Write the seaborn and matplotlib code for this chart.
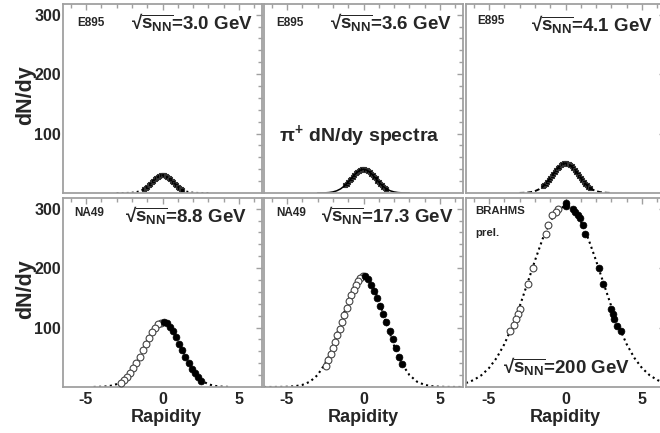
import matplotlib
matplotlib.use("Agg")
import matplotlib.pyplot as plt
import seaborn as sns

# ---------------- data ----------------
energy_labels = ["3.0", "3.6", "4.1", "8.8", "17.3", "200"]
experiments = ["E895", "E895", "E895", "NA49", "NA49", "BRAHMS"]

# E895 (top row) data points
e30_x = [-1.2, -1.1, -1.0, -0.9, -0.8, -0.7, -0.6, -0.5, -0.4, -0.3, -0.2, -0.1, 0.0,
         0.1, 0.2, 0.3, 0.4, 0.5, 0.6, 0.7, 0.8, 0.9, 1.0, 1.1, 1.2, 1.3]
e30_y = [6.8, 8.9, 10.6, 13.2, 15.4, 18.3, 20.6, 23.4, 25.3, 27.5, 28.7, 29.8, 30.1,
         29.6, 28.9, 27.2, 25.6, 23.0, 20.9, 18.0, 15.7, 12.9, 10.9, 8.6, 7.0, 5.2]

e36_x = [-1.2, -1.1, -1.0, -0.9, -0.8, -0.7, -0.6, -0.5, -0.4, -0.3, -0.2, -0.1, 0.0,
         0.1, 0.2, 0.3, 0.4, 0.5, 0.6, 0.7, 0.8, 0.9, 1.0, 1.1, 1.2, 1.3, 1.4, 1.5]
e36_y = [12.8, 15.7, 18.1, 21.4, 24.1, 27.5, 30.0, 33.1, 35.1, 37.5, 38.6, 39.9, 40.2,
         39.5, 39.0, 37.1, 35.5, 32.7, 30.4, 27.1, 24.5, 21.0, 18.5, 15.3, 13.2, 10.5, 8.8, 6.8]

e41_x = [-1.5, -1.4, -1.3, -1.2, -1.1, -1.0, -0.9, -0.8, -0.7, -0.6, -0.5, -0.4, -0.3, -0.2, -0.1, 0.0,
         0.1, 0.2, 0.3, 0.4, 0.5, 0.6, 0.7, 0.8, 0.9, 1.0, 1.1, 1.2, 1.3, 1.4, 1.5, 1.6]
e41_y = [11.6, 13.1, 15.8, 18.2, 21.9, 24.7, 28.8, 31.8, 35.9, 38.6, 42.4, 44.5, 47.3, 48.4, 50.1, 49.8,
         49.5, 48.8, 46.7, 45.0, 41.8, 39.1, 35.3, 32.3, 28.2, 25.2, 21.3, 18.6, 15.2, 13.1, 10.3, 8.4]

# fit curves, top row
fit_top_x = [-3.0, -2.75, -2.5, -2.25, -2.0, -1.75, -1.5, -1.25, -1.0, -0.75, -0.5, -0.25, 0.0,
             0.25, 0.5, 0.75, 1.0, 1.25, 1.5, 1.75, 2.0, 2.25, 2.5, 2.75, 3.0]
fit30_y = [0.0, 0.01, 0.05, 0.17, 0.5, 1.3, 3.0, 6.1, 10.8, 16.9, 23.2, 28.1, 30.0,
           28.1, 23.2, 16.9, 10.8, 6.1, 3.0, 1.3, 0.5, 0.17, 0.05, 0.01, 0.0]
fit36_y = [0.03, 0.1, 0.3, 0.77, 1.8, 3.7, 6.9, 11.8, 18.3, 25.8, 32.9, 38.1, 40.0,
           38.1, 32.9, 25.8, 18.3, 11.8, 6.9, 3.7, 1.8, 0.77, 0.3, 0.1, 0.03]
fit41_y = [0.1, 0.27, 0.66, 1.5, 3.1, 6.0, 10.5, 17.0, 25.0, 33.9, 42.1, 47.9, 50.0,
           47.9, 42.1, 33.9, 25.0, 17.0, 10.5, 6.0, 3.1, 1.5, 0.66, 0.27, 0.1]

# NA49 8.8 GeV
na88_fill_x = [0.1, 0.3, 0.5, 0.7, 0.9, 1.1, 1.3, 1.5, 1.7, 1.9, 2.1, 2.3, 2.5]
na88_fill_y = [110, 107, 101, 94, 84, 73, 62, 51, 41, 31, 23, 16, 10]
na88_open_x = [-0.1, -0.3, -0.5, -0.7, -0.9, -1.1, -1.3, -1.5, -1.7, -1.9, -2.1, -2.3, -2.5, -2.7]
na88_open_y = [108, 106, 100, 92, 83, 73, 62, 51, 41, 32, 24, 17, 12, 7]
fit88_x = [-4.5, -4.25, -4.0, -3.75, -3.5, -3.25, -3.0, -2.75, -2.5, -2.25, -2.0, -1.75, -1.5,
           -1.25, -1.0, -0.75, -0.5, -0.25, 0.0, 0.25, 0.5, 0.75, 1.0, 1.25, 1.5, 1.75,
           2.0, 2.25, 2.5, 2.75, 3.0, 3.25, 3.5, 3.75, 4.0, 4.25, 4.5]
fit88_y = [0.1, 0.21, 0.43, 0.83, 1.56, 2.8, 4.8, 8.0, 12.6, 19.0, 27.4, 38.0, 50.4,
           63.9, 77.8, 90.5, 100.9, 107.6, 110, 107.6, 100.9, 90.5, 77.8, 63.9, 50.4, 38.0,
           27.4, 19.0, 12.6, 8.0, 4.8, 2.8, 1.56, 0.83, 0.43, 0.21, 0.1]

# NA49 17.3 GeV
na173_fill_x = [0.1, 0.3, 0.5, 0.7, 0.9, 1.1, 1.3, 1.5, 1.7, 1.9, 2.1, 2.3, 2.5]
na173_fill_y = [187, 181, 172, 162, 150, 137, 123, 109, 95, 80, 66, 51, 38]
na173_open_x = [-0.05, -0.2, -0.35, -0.5, -0.65, -0.8, -0.95, -1.1, -1.25, -1.4, -1.55,
                -1.7, -1.85, -2.0, -2.15, -2.3, -2.45]
na173_open_y = [186, 183, 178, 171, 163, 154, 144, 133, 121, 109, 98, 87, 76, 66, 56, 46, 36]

# BRAHMS 200 GeV
br_fill_x = [0.0, 0.05, 0.5, 0.65, 0.8, 0.95, 1.13, 1.3, 2.17, 2.48, 3.0, 3.1, 3.2, 3.35, 3.6]
br_fill_y = [310, 304, 300, 294, 289, 285, 272, 258, 201, 173, 131, 122, 114, 102, 94]
br_open_x = [-0.5, -0.65, -0.85, -1.15, -1.3, -2.15, -2.45, -3.0, -3.1, -3.25, -3.35, -3.6]
br_open_y = [300, 294, 289, 272, 258, 201, 173, 131, 123, 115, 105, 95]

fit_wide_x = [-6.5, -6.0, -5.5, -5.0, -4.5, -4.0, -3.5, -3.0, -2.5, -2.0, -1.5, -1.0, -0.5, 0.0,
              0.5, 1.0, 1.5, 2.0, 2.5, 3.0, 3.5, 4.0, 4.5, 5.0, 5.5, 6.0, 6.5]
fit173_y = [0.01, 0.03, 0.1, 0.38, 1.23, 3.5, 8.9, 20.1, 39.5, 69.4, 107.0, 145.9, 175.8, 187,
            175.8, 145.9, 107.0, 69.4, 39.5, 20.1, 8.9, 3.5, 1.23, 0.38, 0.1, 0.03, 0.01]
fit200_y = [6.7, 11.7, 19.7, 31.8, 48.9, 71.8, 100.8, 135.2, 173.5, 212.4, 248.8, 278.6, 298.2, 305,
            298.2, 278.6, 248.8, 212.4, 173.5, 135.2, 100.8, 71.8, 48.9, 31.8, 19.7, 11.7, 6.7]

y_ticks = [100, 200, 300]
x_ticks = [-5, 0, 5]

# ---------------- style ----------------
sns.set_style("white")
plt.rcParams["font.family"] = ["Liberation Sans", "DejaVu Sans"]
plt.rcParams["font.weight"] = "bold"
plt.rcParams["axes.unicode_minus"] = False
plt.rcParams["mathtext.fontset"] = "custom"
plt.rcParams["mathtext.rm"] = "Liberation Sans:bold"
plt.rcParams["mathtext.it"] = "Liberation Sans:bold"
plt.rcParams["mathtext.bf"] = "Liberation Sans:bold"
plt.rcParams["mathtext.sf"] = "Liberation Sans:bold"

GRAY = "#a0a0a0"
W, H = 660.0, 433.0
fig = plt.figure(figsize=(6.6, 4.33), dpi=100)

col_left = [63, 264, 466]
row_top = [4, 198]
pw, ph = 199, 189

axes = []
for r in range(2):
    for c in range(3):
        l, t = col_left[c], row_top[r]
        ax = fig.add_axes([l / W, 1 - (t + ph) / H, pw / W, ph / H])
        axes.append(ax)

dotted = (0, (1.0, 1.6))


def style_axes(ax, r, c):
    ax.set_xlim(-6.5, 6.5)
    ax.set_ylim(0, 318)
    ax.set_xticks(x_ticks)
    ax.set_yticks(y_ticks)
    ax.set_xticks(range(-6, 7), minor=True)
    ax.set_yticks(range(20, 318, 20), minor=True)
    for sp in ax.spines.values():
        sp.set_color(GRAY)
        sp.set_linewidth(1.3)
        sp.set_visible(True)
    ax.tick_params(which="both", direction="in", top=True, right=True,
                   color=GRAY, width=1)
    ax.tick_params(which="major", length=4.5)
    ax.tick_params(which="minor", length=3)
    ax.tick_params(axis="y", pad=1.5, labelsize=11.5)
    ax.tick_params(axis="x", pad=3.5, labelsize=11.5)
    if c != 0:
        ax.set_yticklabels([])
    else:
        ax.set_yticklabels([str(v) for v in y_ticks], fontweight="bold")
        ax.set_ylabel("dN/dy", fontsize=15.5, fontweight="bold")
        ax.yaxis.set_label_coords(-0.19, 0.52)
        ax.yaxis.label.set_va("center")
        ax.yaxis.label.set_ha("center")
    if r == 0:
        ax.set_xticklabels([])
        ax.set_xlabel("")
    else:
        ax.set_xticklabels([str(v) for v in x_ticks], fontweight="bold")
        ax.set_xlabel("Rapidity", fontsize=13, fontweight="bold")
        ax.xaxis.set_label_coords(0.5 + 0.02 * (c == 0), -0.16)
        ax.xaxis.label.set_va("center")


def energy_text(e):
    return "\u221a" + r"$\overline{\mathrm{s}_{\mathrm{NN}}}$=" + e + " GeV"


# top row
top_sets = [(e30_x, e30_y, fit30_y, dotted), (e36_x, e36_y, fit36_y, "-"),
            (e41_x, e41_y, fit41_y, (0, (2.5, 1.5)))]
for i, (dx, dy, fy, ls) in enumerate(top_sets):
    ax = axes[i]
    sns.lineplot(x=fit_top_x, y=fy, ax=ax, color="black", linestyle=ls,
                 linewidth=1.4 if ls != "-" else 1.1, sort=False, estimator=None)
    sns.scatterplot(x=dx, y=dy, ax=ax, marker="s", s=10, color="black",
                    linewidth=0.8, edgecolor="#333333")

# bottom row
bottom_sets = [
    (na88_fill_x, na88_fill_y, na88_open_x, na88_open_y, fit88_x, fit88_y),
    (na173_fill_x, na173_fill_y, na173_open_x, na173_open_y, fit_wide_x, fit173_y),
    (br_fill_x, br_fill_y, br_open_x, br_open_y, fit_wide_x, fit200_y),
]
for i, (fx, fy, ox, oy, cx, cy) in enumerate(bottom_sets):
    ax = axes[3 + i]
    sns.lineplot(x=cx, y=cy, ax=ax, color="black", linestyle=dotted,
                 linewidth=1.5, sort=False, estimator=None)
    sns.scatterplot(x=ox, y=oy, ax=ax, marker="o", s=24, color="white",
                    edgecolor="#444444", linewidth=0.8, zorder=3)
    sns.scatterplot(x=fx, y=fy, ax=ax, marker="o", s=24, color="black",
                    edgecolor="black", linewidth=0.5, zorder=4)

for k, ax in enumerate(axes):
    style_axes(ax, k // 3, k % 3)

# annotations
exp_pos = [(0.07, 0.883), (0.06, 0.883), (0.055, 0.895), (0.055, 0.906), (0.06, 0.906)]
for k in range(5):
    axes[k].text(exp_pos[k][0], exp_pos[k][1], experiments[k], transform=axes[k].transAxes,
                 fontsize=8.5, fontweight="bold", ha="left", va="baseline")
axes[5].text(0.045, 0.914, experiments[5], transform=axes[5].transAxes,
             fontsize=8.2, fontweight="bold", ha="left", va="baseline")
axes[5].text(0.045, 0.80, "prel.", transform=axes[5].transAxes,
             fontsize=8.2, fontweight="bold", ha="left", va="baseline")

en_pos = [(0.955, 0.865), (0.945, 0.865), (0.94, 0.855), (0.925, 0.871), (0.95, 0.871)]
for k in range(5):
    axes[k].text(en_pos[k][0], en_pos[k][1], energy_text(energy_labels[k]),
                 transform=axes[k].transAxes, fontsize=13.5, fontweight="bold",
                 ha="right", va="baseline")
axes[5].text(0.186, 0.074, energy_text(energy_labels[5]), transform=axes[5].transAxes,
             fontsize=13.5, fontweight="bold", ha="left", va="baseline")

axes[1].text(0.48, 0.277, r"$\pi^{+}$ dN/dy spectra", transform=axes[1].transAxes,
             fontsize=14, fontweight="bold", ha="center", va="baseline")

fig.savefig("out.png", dpi=100)
